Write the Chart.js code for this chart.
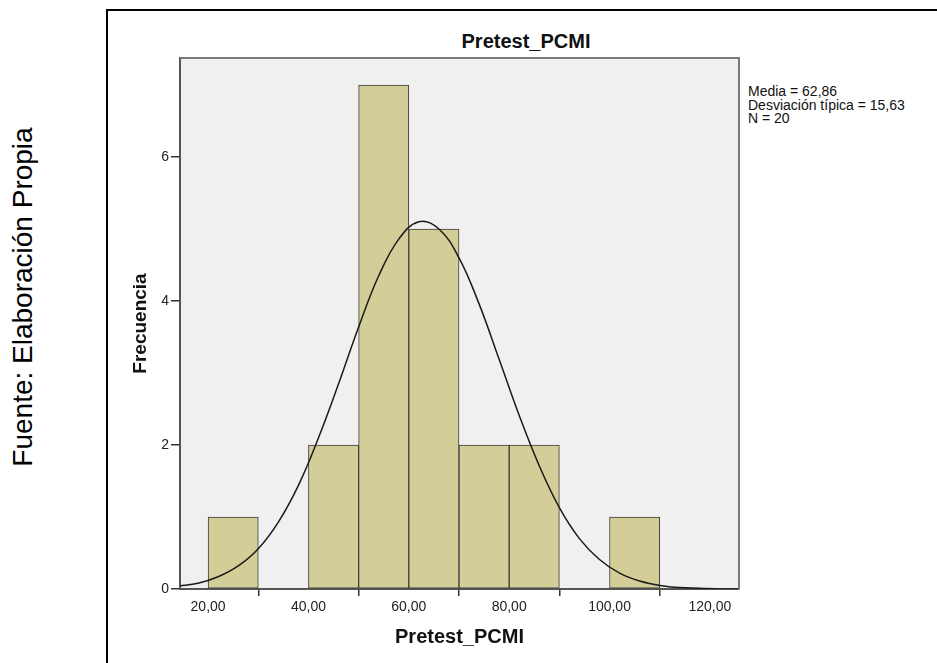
<!DOCTYPE html>
<html>
<head>
<meta charset="utf-8">
<script src="https://cdn.jsdelivr.net/npm/chart.js@4.4.1/dist/chart.umd.min.js"></script>
<style>
  body { margin: 0; width: 937px; height: 663px; overflow: hidden; background: #fff; position: relative;
         font-family: "Liberation Sans", Arial, sans-serif; color: #111; }
  #frame { position: absolute; left: 106px; top: 9px; width: 900px; height: 700px;
           border-left: 2px solid #000; border-top: 2px solid #000; }
  #fuente { position: absolute; left: -177px; top: 283px; width: 400px; height: 28px; line-height: 28px;
            font-size: 28px; text-align: center; white-space: nowrap; transform: rotate(-90deg); color: #000; }
  #title { position: absolute; left: 526px; top: 31px; transform: translateX(-50%); font-size: 20px;
           line-height: 20px; font-weight: bold; white-space: nowrap; }
  #stats { position: absolute; left: 748px; top: 85px; font-size: 14px; line-height: 13.5px; white-space: nowrap; }
  canvas { position: absolute; left: 0; top: 0; }
</style>
</head>
<body>
<div id="frame"></div>
<div id="fuente">Fuente: Elaboración Propia</div>
<div id="title">Pretest_PCMI</div>
<div id="stats"></div>
<canvas id="chart" width="937" height="663"></canvas>
<script>
  // histogram bins (width 10) and their counts
  var binCenters = [25, 35, 45, 55, 65, 75, 85, 95, 105];
  var binCounts = [1, 0, 2, 7, 5, 2, 2, 0, 1];

  // normal curve
  var curveX = [14, 18, 22, 26, 30, 34, 38, 42, 46, 50, 54, 58, 62, 66, 70, 74, 78, 82, 86, 90, 94, 98, 102, 106, 110, 114, 118, 122, 126];
  var curveY = [0.04, 0.08, 0.17, 0.32, 0.56, 0.93, 1.44, 2.1, 2.85, 3.64, 4.35, 4.86, 5.1, 5.0, 4.6, 3.96, 3.19, 2.41, 1.71, 1.13, 0.7, 0.41, 0.22, 0.11, 0.05, 0.02, 0.01, 0.0, 0.0];

  var xTicks = [20, 40, 60, 80, 100, 120];
  var yTicks = [0, 2, 4, 6];
  var statsLines = ["Media = 62,86", "Desviación típica = 15,63", "N = 20"];

  document.getElementById("stats").innerHTML = statsLines.map(function (s) {
    return "<div>" + s + "</div>";
  }).join("");

  var FONT = "'Liberation Sans', Arial, sans-serif";

  var bars = [];
  binCenters.forEach(function (c, i) {
    if (binCounts[i] > 0) bars.push({ x: c, y: binCounts[i] });
  });
  var curve = curveX.map(function (x, i) {
    return { x: x, y: curveY[i] };
  });

  var plotFrame = {
    id: "plotFrame",
    beforeDraw: function (chart) {
      var a = chart.chartArea, ctx = chart.ctx;
      ctx.save();
      ctx.fillStyle = "#f0f0f0";
      ctx.fillRect(a.left, a.top, a.right - a.left, a.bottom - a.top);
      ctx.restore();
    },
    afterDraw: function (chart) {
      var a = chart.chartArea, ctx = chart.ctx;
      ctx.save();
      ctx.strokeStyle = "#7a7a7a";
      ctx.lineWidth = 2;
      ctx.beginPath();
      ctx.moveTo(a.left, a.top);
      ctx.lineTo(a.right, a.top);
      ctx.lineTo(a.right, a.bottom);
      ctx.stroke();
      ctx.restore();
    }
  };

  new Chart(document.getElementById("chart"), {
    type: "bar",
    data: {
      datasets: [
        {
          type: "line",
          data: curve,
          borderColor: "#1a1a1a",
          borderWidth: 1.5,
          pointRadius: 0,
          tension: 0.4,
          fill: false,
          order: 0
        },
        {
          type: "bar",
          data: bars,
          backgroundColor: "#d3ce98",
          borderColor: "#3c3c3c",
          borderWidth: 1,
          borderSkipped: false,
          barPercentage: 1,
          categoryPercentage: 1,
          order: 1
        }
      ]
    },
    options: {
      responsive: false,
      animation: false,
      layout: { padding: { left: 0, top: 58, right: 198, bottom: 0 } },
      plugins: { legend: { display: false }, tooltip: { enabled: false } },
      scales: {
        x: {
          type: "linear",
          min: 14.4,
          max: 125.8,
          offset: false,
          z: 1,
          afterBuildTicks: function (s) {
            s.ticks = xTicks.map(function (v) { return { value: v }; });
          },
          afterFit: function (s) { s.height = 74; },
          grid: { drawOnChartArea: false, drawTicks: true, tickLength: 7, color: "#333", lineWidth: 1.5 },
          border: { display: true, color: "#555", width: 2 },
          ticks: {
            padding: 3,
            color: "#222",
            font: { family: FONT, size: 14 },
            maxRotation: 0,
            callback: function (v) { return v.toFixed(2).replace(".", ","); }
          },
          title: {
            display: true,
            text: "Pretest_PCMI",
            color: "#111",
            font: { family: FONT, size: 20, weight: "bold" },
            padding: { top: 0, bottom: 13.6 }
          }
        },
        y: {
          min: 0,
          max: 7.375,
          z: 1,
          afterBuildTicks: function (s) {
            s.ticks = yTicks.map(function (v) { return { value: v }; });
          },
          afterFit: function (s) { s.width = 180; },
          grid: { drawOnChartArea: false, drawTicks: true, tickLength: 9, color: "#333", lineWidth: 1.5 },
          border: { display: true, color: "#555", width: 2 },
          ticks: {
            padding: 2,
            color: "#222",
            font: { family: FONT, size: 14 }
          },
          title: {
            display: true,
            text: "Frecuencia",
            color: "#111",
            font: { family: FONT, size: 19, weight: "bold" },
            padding: { top: 129, bottom: 0 }
          }
        }
      }
    },
    plugins: [plotFrame]
  });
</script>
</body>
</html>
